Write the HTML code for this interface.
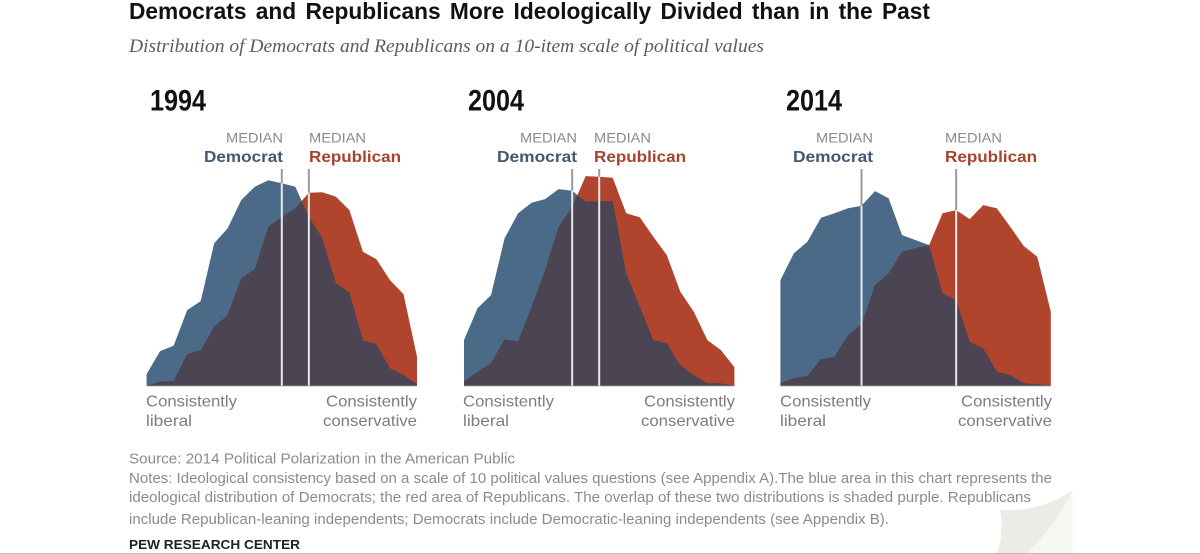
<!DOCTYPE html>
<html lang="en">
<head>
<meta charset="utf-8">
<title>Democrats and Republicans More Ideologically Divided than in the Past</title>
<style>
html,body{margin:0;padding:0;background:#fff;width:1200px;height:554px;overflow:hidden}
svg{display:block;filter:blur(.35px)}
text{font-family:"Liberation Sans",sans-serif}
.med{font-size:14px;fill:#8a8a8a}
.dem{font-size:16px;font-weight:bold;fill:#3f5a72}
.rep{font-size:16px;font-weight:bold;fill:#a5432f}
.yr{font-size:30px;font-weight:bold;fill:#111}
.end{font-size:16px;fill:#7d7d7d}
.note{font-size:14.5px;fill:#8b8b8b}
</style>
</head>
<body>
<svg id="chart" xmlns="http://www.w3.org/2000/svg" width="1200" height="554" viewBox="0 0 1200 554">
  <rect width="1200" height="554" fill="#fff"/>
  <g>
    <path d="M1072.5 490 Q1056 525 1027 553 L1072.5 553 Z" fill="#f6f6f3"/>
    <path d="M1000 510 Q1042 512 1072.5 490 Q1056 525 1027 553 L997 553 Q1004 535 1000 510 Z" fill="#ecebe5"/>
  </g>
  <line x1="0" y1="553.5" x2="1200" y2="553.5" stroke="#bdbdbd" stroke-width="1"/>

  <text x="129" y="19" font-size="23" font-weight="bold" fill="#111" word-spacing="3" textLength="801" lengthAdjust="spacingAndGlyphs">Democrats and Republicans More Ideologically Divided than in the Past</text>
  <text x="129" y="52" font-size="19" font-style="italic" fill="#5c5c5c" style="font-family:'Liberation Serif',serif" textLength="635" lengthAdjust="spacingAndGlyphs">Distribution of Democrats and Republicans on a 10-item scale of political values</text>

  <g id="plots"></g>

  <text class="yr" x="150" y="110.5" textLength="56" lengthAdjust="spacingAndGlyphs">1994</text>
  <text class="yr" x="468" y="110.5" textLength="56" lengthAdjust="spacingAndGlyphs">2004</text>
  <text class="yr" x="786" y="110.5" textLength="56" lengthAdjust="spacingAndGlyphs">2014</text>

  <text class="med" x="226" y="142.5" textLength="57" lengthAdjust="spacingAndGlyphs">MEDIAN</text>
  <text class="dem" x="204" y="162" textLength="79" lengthAdjust="spacingAndGlyphs">Democrat</text>
  <text class="med" x="309" y="142.5" textLength="57" lengthAdjust="spacingAndGlyphs">MEDIAN</text>
  <text class="rep" x="309" y="162" textLength="92" lengthAdjust="spacingAndGlyphs">Republican</text>

  <text class="med" x="520" y="142.5" textLength="57" lengthAdjust="spacingAndGlyphs">MEDIAN</text>
  <text class="dem" x="497" y="162" textLength="80" lengthAdjust="spacingAndGlyphs">Democrat</text>
  <text class="med" x="594" y="142.5" textLength="57" lengthAdjust="spacingAndGlyphs">MEDIAN</text>
  <text class="rep" x="594" y="162" textLength="92" lengthAdjust="spacingAndGlyphs">Republican</text>

  <text class="med" x="816" y="142.5" textLength="57" lengthAdjust="spacingAndGlyphs">MEDIAN</text>
  <text class="dem" x="793" y="162" textLength="80" lengthAdjust="spacingAndGlyphs">Democrat</text>
  <text class="med" x="945" y="142.5" textLength="57" lengthAdjust="spacingAndGlyphs">MEDIAN</text>
  <text class="rep" x="945" y="162" textLength="92" lengthAdjust="spacingAndGlyphs">Republican</text>

  <text class="end" x="146" y="406.5" textLength="91" lengthAdjust="spacingAndGlyphs">Consistently</text>
  <text class="end" x="146" y="426" textLength="46" lengthAdjust="spacingAndGlyphs">liberal</text>
  <text class="end" x="326" y="406.5" textLength="91" lengthAdjust="spacingAndGlyphs">Consistently</text>
  <text class="end" x="323" y="426" textLength="94" lengthAdjust="spacingAndGlyphs">conservative</text>

  <text class="end" x="463" y="406.5" textLength="91" lengthAdjust="spacingAndGlyphs">Consistently</text>
  <text class="end" x="463" y="426" textLength="46" lengthAdjust="spacingAndGlyphs">liberal</text>
  <text class="end" x="644" y="406.5" textLength="91" lengthAdjust="spacingAndGlyphs">Consistently</text>
  <text class="end" x="641" y="426" textLength="94" lengthAdjust="spacingAndGlyphs">conservative</text>

  <text class="end" x="780" y="406.5" textLength="91" lengthAdjust="spacingAndGlyphs">Consistently</text>
  <text class="end" x="780" y="426" textLength="46" lengthAdjust="spacingAndGlyphs">liberal</text>
  <text class="end" x="961" y="406.5" textLength="91" lengthAdjust="spacingAndGlyphs">Consistently</text>
  <text class="end" x="958" y="426" textLength="94" lengthAdjust="spacingAndGlyphs">conservative</text>

  <text class="note" x="129" y="463.5" textLength="386" lengthAdjust="spacingAndGlyphs">Source: 2014 Political Polarization in the American Public</text>
  <text class="note" x="129" y="483" textLength="923" lengthAdjust="spacingAndGlyphs">Notes: Ideological consistency based on a scale of 10 political values questions (see Appendix A).The blue area in this chart represents the</text>
  <text class="note" x="129" y="502" textLength="902" lengthAdjust="spacingAndGlyphs">ideological distribution of Democrats; the red area of Republicans. The overlap of these two distributions is shaded purple. Republicans</text>
  <text class="note" x="129" y="524" textLength="760" lengthAdjust="spacingAndGlyphs">include Republican-leaning independents; Democrats include Democratic-leaning independents (see Appendix B).</text>
  <text x="129" y="549" font-size="13" font-weight="bold" fill="#222" textLength="171" lengthAdjust="spacingAndGlyphs">PEW RESEARCH CENTER</text>
</svg>
<script>
const years = ['1994', '2004', '2014'];
const dem1994 = [0.58,1.73,2.0,3.78,4.23,7.12,7.87,9.28,9.95,10.27,10.12,9.95,8.45,7.37,5.12,4.67,2.28,2.08,0.87,0.53,0.08];
const rep1994 = [0,0.2,0.25,1.57,1.78,2.95,3.53,5.37,5.83,7.95,8.45,8.87,9.65,9.67,9.45,8.78,6.7,6.32,5.28,4.58,1.45];
const dem2004 = [2.28,3.87,4.53,7.37,8.62,9.15,9.33,9.83,9.75,9.2,9.23,9.23,5.62,3.95,2.28,2.12,1.03,0.53,0.12,0.12,0];
const rep2004 = [0.2,0.7,1.12,2.32,2.23,3.95,5.78,7.95,8.95,10.48,10.45,10.4,8.62,8.42,7.45,6.53,4.7,3.7,2.28,1.78,0.92];
const dem2014 = [5.28,6.62,7.2,8.4,8.62,8.87,9.0,9.73,9.37,7.53,7.28,7.03,4.62,4.28,2.2,1.87,0.7,0.53,0.12,0.07,0];
const rep2014 = [0.12,0.37,0.5,1.33,1.45,2.53,3.08,5.03,5.62,6.7,6.87,7.03,8.62,8.78,8.33,9.03,8.87,7.95,6.98,6.45,3.7];
const demMedians = [10, 8, 6];
const repMedians = [12, 10, 13];

const NS = 'http://www.w3.org/2000/svg';
const plots = document.getElementById('plots');
const baseY = 385.7;
const binWidth = 13.52;
const pxPerPercent = 20;
const medianTop = 169;

function xScale(left, bin) { return left + bin * binWidth; }
function yScale(value) { return baseY - value * pxPerPercent; }

function areaPath(values, left) {
  let d = 'M' + xScale(left, 0).toFixed(1) + ' ' + baseY;
  values.forEach(function (v, i) {
    d += 'L' + xScale(left, i).toFixed(1) + ' ' + yScale(v).toFixed(1);
  });
  d += 'L' + xScale(left, values.length - 1).toFixed(1) + ' ' + baseY + 'Z';
  return d;
}

function make(tag, attrs, parent) {
  const el = document.createElementNS(NS, tag);
  Object.keys(attrs).forEach(function (k) { el.setAttribute(k, attrs[k]); });
  parent.appendChild(el);
  return el;
}

function drawPanel(year, dem, rep, medD, medR, left) {
  const g = make('g', {}, plots);
  
  

  const demArea = make('path', { d: areaPath(dem, left), fill: '#4a6a87' }, g);
  
  

  const repArea = make('path', { d: areaPath(rep, left), fill: '#b0442c' }, g);
  
  

  const clip = make('clipPath', { id: 'dem-clip-' + year }, g);
  make('path', { d: areaPath(dem, left) }, clip);

  const overlap = make('path', { d: areaPath(rep, left), fill: '#4b4453', 'clip-path': 'url(#dem-clip-' + year + ')' }, g);
  
  

  const axis = make('line', { x1: xScale(left, 0), x2: xScale(left, dem.length - 1), y1: baseY, y2: baseY, stroke: '#77737d', 'stroke-width': 1 }, g);
  
  

  [medD, medR].forEach(function (bin) {
    const x = xScale(left, bin);
    const top = yScale(Math.max(dem[bin], rep[bin]));
    const above = make('line', { x1: x, x2: x, y1: medianTop, y2: top, stroke: '#9a9a9a', 'stroke-width': 2 }, g);
    
    
    const inside = make('line', { x1: x, x2: x, y1: top, y2: baseY, stroke: '#e9e9ec', 'stroke-width': 2 }, g);
    
    
  });
}

drawPanel(years[0], dem1994, rep1994, demMedians[0], repMedians[0], 146.6);
drawPanel(years[1], dem2004, rep2004, demMedians[1], repMedians[1], 464);
drawPanel(years[2], dem2014, rep2014, demMedians[2], repMedians[2], 780.4);
</script>
</body>
</html>
